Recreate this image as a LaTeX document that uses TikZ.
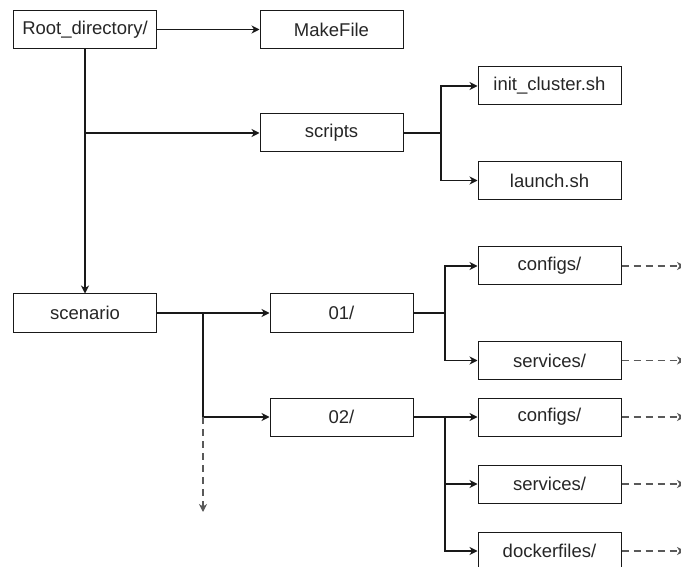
\documentclass[tikz,border=0pt]{standalone}
\usepackage{fontspec}
\setmainfont{Liberation Sans}
\usetikzlibrary{arrows.meta}
\begin{document}
\begin{tikzpicture}[x=1pt,y=-1pt,
 box/.style={draw=black!90,line width=1pt,minimum width=143pt,minimum height=38pt,inner sep=0pt,font=\fontsize{18.5}{22}\selectfont,text=black!85},
 conn/.style={draw=black!90,line width=1.1pt,-{Stealth[length=8pt,width=8pt,inset=2.5pt]}},
 link/.style={draw=black!90,line width=1.1pt},
 more/.style={draw=black!65,line width=1.1pt,dash pattern=on 7pt off 5pt,-{Stealth[length=8pt,width=8pt,inset=2.5pt]}}]
\useasboundingbox (0,0) rectangle (681,567);
\node[box] (root) at (85,29.5) {Root\_directory/};
\node[box] (make) at (331.5,29.5) {MakeFile};
\node[box] (scripts) at (331.5,133) {scripts};
\node[box] (init) at (549.5,86) {init\_cluster.sh};
\node[box] (launch) at (549.5,180.5) {launch.sh};
\node[box] (scen) at (85,313) {scenario};
\node[box] (s01) at (341.5,313) {01/};
\node[box] (cfg1) at (549.5,266) {configs/};
\node[box] (svc1) at (549.5,360.5) {services/};
\node[box] (s02) at (341.5,417) {02/};
\node[box] (cfg2) at (549.5,417) {configs/};
\node[box] (svc2) at (549.5,484) {services/};
\node[box] (dock) at (549.5,551) {dockerfiles/};
% root
\draw[conn] (root) -- (make);
\draw[conn] (root.south) -- (scen.north);
\coordinate (jr) at (root.south |- scripts.west);
\draw[conn] (jr) -- (scripts.west);
% scripts
\coordinate (js) at (441,133);
\draw[link] (scripts.east) -- (js);
\draw[conn] (js) |- (init.west);
\draw[conn] (js) |- (launch.west);
% scenario
\coordinate (jsc) at (203,313);
\coordinate (j02) at (203,417);
\coordinate (jend) at (203,512);
\draw[link] (scen.east) -- (jsc);
\draw[conn] (jsc) -- (s01.west);
\draw[conn] (jsc) |- (s02.west);
\draw[more] (j02) -- (jend);
% 01
\coordinate (j1) at (445,313);
\draw[link] (s01.east) -- (j1);
\draw[conn] (j1) |- (cfg1.west);
\draw[conn] (j1) |- (svc1.west);
% 02
\coordinate (j2) at (445,417);
\draw[conn] (s02.east) -- (cfg2.west);
\draw[conn] (j2) |- (svc2.west);
\draw[conn] (j2) |- (dock.west);
% continuation
\coordinate (e1) at (685,266);
\coordinate (e2) at (685,360.5);
\coordinate (e3) at (685,417);
\coordinate (e4) at (685,484);
\coordinate (e5) at (685,551);
\draw[more] (cfg1.east) -- (e1);
\draw[more] (svc1.east) -- (e2);
\draw[more] (cfg2.east) -- (e3);
\draw[more] (svc2.east) -- (e4);
\draw[more] (dock.east) -- (e5);
\end{tikzpicture}
\end{document}
